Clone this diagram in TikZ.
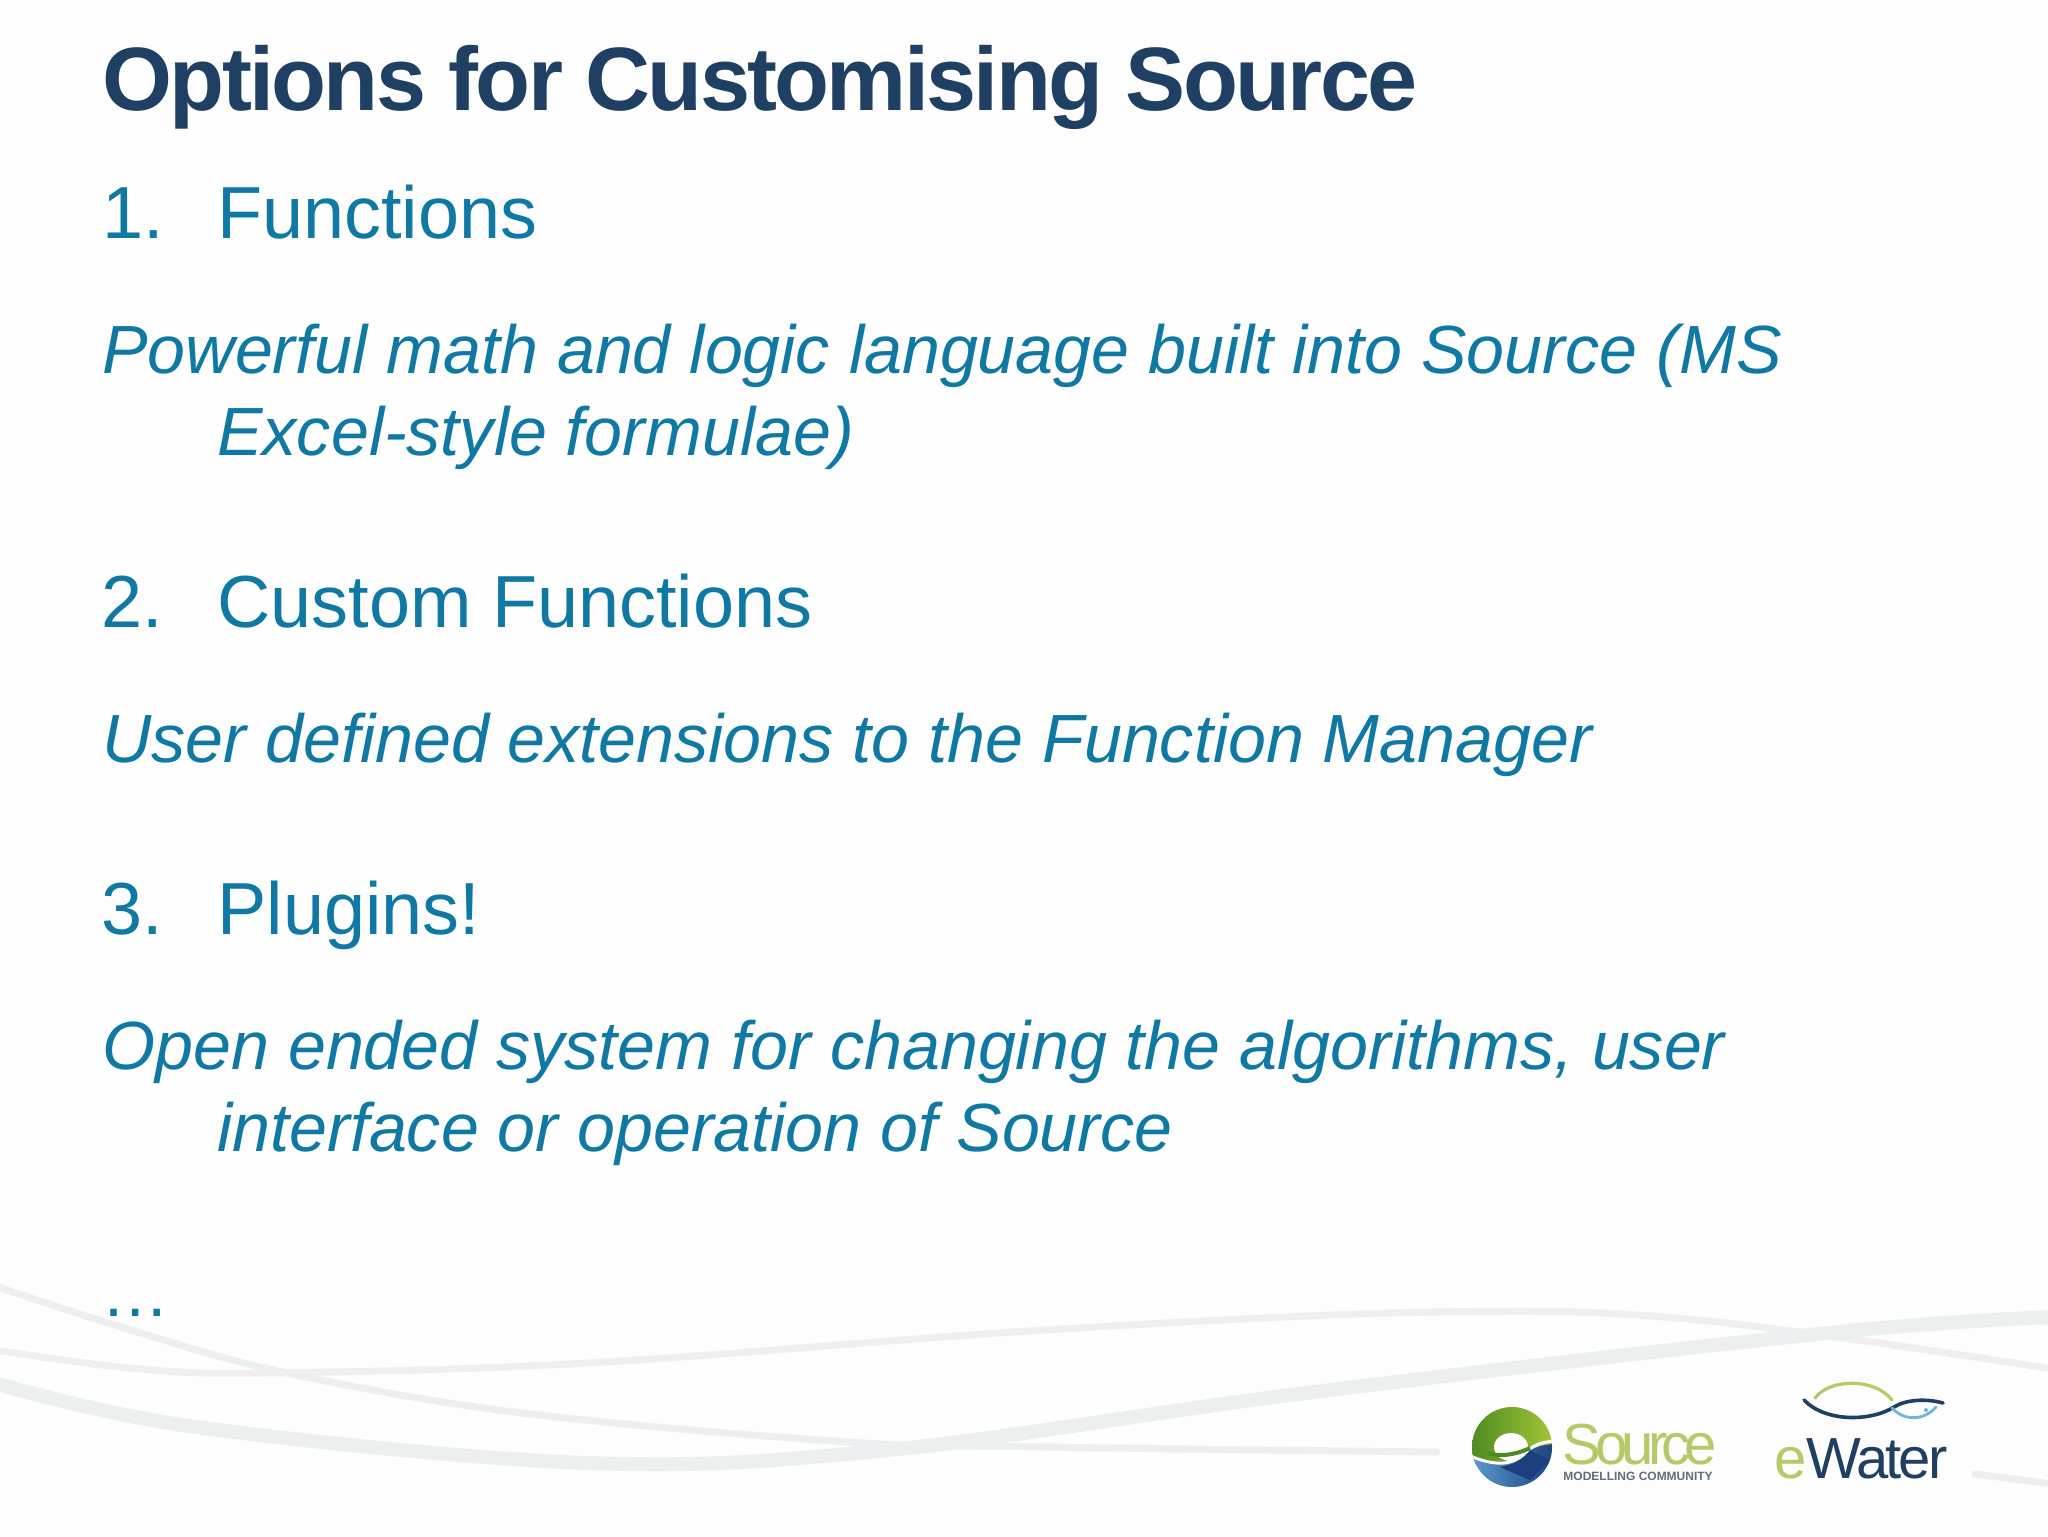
\documentclass[tikz,border=0pt]{standalone}
\usepackage{fontspec}
\setmainfont{Liberation Sans}
\definecolor{titleblue}{HTML}{1F3F63}
\definecolor{bodyblue}{HTML}{0F79A3}
\definecolor{pagebg}{HTML}{FDFDFE}
\definecolor{wave}{HTML}{ECEFF0}
\definecolor{wavep}{HTML}{F0EEF1}
\definecolor{olive}{HTML}{B4C968}
\definecolor{deepblue}{HTML}{1F3F63}
\definecolor{logogreenL}{HTML}{4C8A22}
\definecolor{logogreenR}{HTML}{A6C735}
\definecolor{logoblueL}{HTML}{5B9BCF}
\definecolor{logoblueR}{HTML}{1C3F7F}
\definecolor{fishblue}{HTML}{6FB7D8}
\tikzset{
  slidetitle/.style={anchor=base west,inner sep=0pt,text=titleblue,font=\fontsize{45pt}{52pt}\bfseries\addfontfeature{LetterSpace=-3}},
  headtext/.style={anchor=base west,inner sep=0pt,text=bodyblue,font=\fontsize{36.9pt}{44pt}\selectfont},
  desctext/.style={anchor=base west,inner sep=0pt,text=bodyblue,font=\fontsize{34.1pt}{40pt}\itshape},
  wavethin/.style={draw=wave,line width=3.5pt,line cap=round},
  wavethick/.style={draw=wave,line width=7pt,line cap=round},
}
\begin{document}
\begin{tikzpicture}[x=0.5pt,y=-0.5pt]
\useasboundingbox (0,0) rectangle (2048,1536);
\fill[pagebg] (0,0) rectangle (2048,1536);
% background waves
\draw[wavethin] plot[smooth,tension=.6] coordinates {(-5,1286) (131,1330) (287,1373) (522,1413) (849,1442) (1045,1447) (1437,1452)};
\draw[wavethin,draw=wavep] plot[smooth,tension=.6] coordinates {(-5,1350) (130,1368) (261,1373) (588,1363) (1045,1330) (1437,1312) (1698,1320) (2053,1369)};
\draw[wavethick] plot[smooth,tension=.6] coordinates {(-5,1383) (196,1427) (588,1463) (888,1450) (1306,1393) (1828,1333) (2053,1317)};
\draw[wavethin] (1975,1474) -- (2053,1484);
% text
\node[slidetitle] (title) at (102,111) {Options for Customising Source};
\node[headtext] (n1) at (102,238) {1.};
\node[headtext] (h1) at (217,238) {Functions};
\node[desctext] (d1a) at (102,373) {Powerful math and logic language built into Source (MS};
\node[desctext] (d1b) at (217,455) {Excel-style formulae)};
\node[headtext] (n2) at (101,627) {2.};
\node[headtext] (h2) at (217,627) {Custom Functions};
\node[desctext] (d2) at (102,762) {User defined extensions to the Function Manager};
\node[headtext] (n3) at (101,934) {3.};
\node[headtext] (h3) at (217,934) {Plugins!};
\node[desctext] (d3a) at (102,1069) {Open ended system for changing the algorithms, user};
\node[desctext] (d3b) at (217,1151) {interface or operation of Source};
\node[headtext,font=\fontsize{34.1pt}{40pt}\selectfont] (more) at (101,1316) {\dots};
% Source logo
\begin{scope}
\clip (1512,1447) circle[radius=40];
\shade[left color=logogreenL,right color=logogreenR] (1470,1405) rectangle (1555,1465);
\shade[left color=logoblueL,right color=logoblueR] (1470,1457) .. controls (1490,1466) and (1510,1470) .. (1525,1455) .. controls (1532,1448) and (1540,1445) .. (1555,1444) -- (1555,1490) -- (1470,1490) -- cycle;
\fill[white] (1511,1447) ellipse[x radius=17,y radius=14];
\draw[white,line width=1.5pt] (1470,1456) .. controls (1490,1464) and (1510,1468) .. (1525,1453) .. controls (1532,1446) and (1540,1442) .. (1555,1441);
\draw[logogreenL,line width=2pt] (1488,1453) .. controls (1500,1457) and (1515,1455) .. (1530,1448);
\fill[logoblueR] (1500,1467) .. controls (1515,1465) and (1525,1458) .. (1530,1450) -- (1550,1460) -- (1530,1480) -- cycle;
\end{scope}
\node[anchor=base west,inner sep=0pt,text=olive,font=\fontsize{29pt}{34pt}\selectfont] (srcname) at (1562,1464) {\addfontfeature{LetterSpace=-10}Source};
\node[anchor=base west,inner sep=0pt,text=gray!70!deepblue,font=\bfseries\fontsize{6pt}{7pt}\selectfont] (srcsub) at (1563,1480) {MODELLING COMMUNITY};
% eWater logo
\node[anchor=base west,inner sep=0pt,font=\fontsize{29pt}{34pt}\selectfont] (ew) at (1774,1478) {\addfontfeature{LetterSpace=-5}\textcolor{olive}{e}\textcolor{deepblue}{Water}};
\draw[deepblue,line width=1.8pt,line cap=round] (1804,1400) .. controls (1825,1422) and (1870,1422) .. (1894,1407) .. controls (1905,1400) and (1925,1398) .. (1943,1403);
\draw[olive,line width=1.6pt,line cap=round] (1815,1398) .. controls (1830,1378) and (1875,1378) .. (1892,1400);
\draw[fishblue,line width=1.4pt,line cap=round] (1892,1408) .. controls (1905,1422) and (1925,1420) .. (1936,1407);
\fill[fishblue] (1926,1410) circle[radius=2];
\end{tikzpicture}
\end{document}
